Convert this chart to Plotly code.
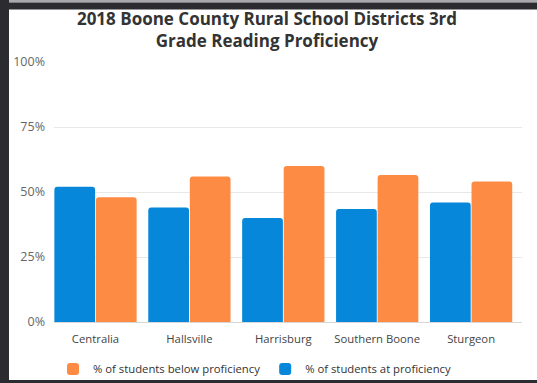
import plotly.graph_objects as go

districts = ["Centralia", "Hallsville", "Harrisburg", "Southern Boone", "Sturgeon"]
at_prof = [52, 44, 40, 43.5, 46]
below_prof = [48, 56, 60, 56.5, 54]
ytick_vals = [0, 25, 50, 75, 100]
ytick_text = ["0%", "25%", "50%", "75%", "100%"]

W, H = 537, 383
L, R, T, B = 54, 15, 62, 61
pw = W - L - R
ph = H - T - B


def px_x(p):
    return (p - L) / pw


def px_y(p):
    return (H - B - p) / ph


fig = go.Figure()
fig.add_trace(go.Bar(x=districts, y=at_prof, name="% of students at proficiency",
                     marker=dict(color="#0787d9", line=dict(width=0))))
fig.add_trace(go.Bar(x=districts, y=below_prof, name="% of students below proficiency",
                     marker=dict(color="#fd8b44", line=dict(width=0))))

shapes = [
    # top frame
    dict(type="rect", xref="paper", yref="paper", x0=px_x(0), x1=px_x(W), y0=px_y(0), y1=px_y(2.5),
         fillcolor="#a9a9ad", line=dict(width=0), layer="above"),
    dict(type="rect", xref="paper", yref="paper", x0=px_x(0), x1=px_x(W), y0=px_y(2.5), y1=px_y(9.5),
         fillcolor="#2b2b30", line=dict(width=0), layer="above"),
    # left frame
    dict(type="rect", xref="paper", yref="paper", x0=px_x(0), x1=px_x(9), y0=px_y(0), y1=px_y(H),
         fillcolor="#2b2b30", line=dict(width=0), layer="above"),
    # bottom frame
    dict(type="rect", xref="paper", yref="paper", x0=px_x(0), x1=px_x(W), y0=px_y(380), y1=px_y(H),
         fillcolor="#2b2b30", line=dict(width=0), layer="above"),
]

fig.update_layout(
    width=W, height=H,
    margin=dict(l=L, r=R, t=T, b=B, pad=0, autoexpand=False),
    paper_bgcolor="white", plot_bgcolor="white",
    font=dict(family="Open Sans", size=12, color="#333333"),
    title=dict(text="<b>2018 Boone County Rural School Districts 3rd<br>Grade Reading Proficiency</b>",
               x=267 / W, xanchor="center", xref="container",
               y=1 - 25 / H, yanchor="top", yref="container", automargin=False,
               font=dict(family="Open Sans", size=17, color="#333333")),
    barmode="group", bargap=0.115, bargroupgap=0.02, barcornerradius=3,
    xaxis=dict(range=[-0.442, 4.542], showgrid=False, showline=True, linecolor="#d8d8d8",
               linewidth=1, ticks="", tickfont=dict(size=11.3, color="#444444"),
               ticklabelstandoff=6, automargin=False),
    yaxis=dict(range=[0, 100], tickvals=ytick_vals, ticktext=ytick_text, showgrid=True,
               gridcolor="#e8e8e8", gridwidth=1, zeroline=False, showline=False, ticks="",
               tickfont=dict(size=12.5, color="#666666"), ticklabelstandoff=8, automargin=False),
    legend=dict(orientation="h", traceorder="reversed", xref="container", yref="container",
                x=53 / W, xanchor="left", y=1 - 369 / H, yanchor="middle",
                font=dict(size=11.3, color="#333333"), bgcolor="rgba(0,0,0,0)"),
    shapes=shapes,
)

fig.write_html("out.html")
